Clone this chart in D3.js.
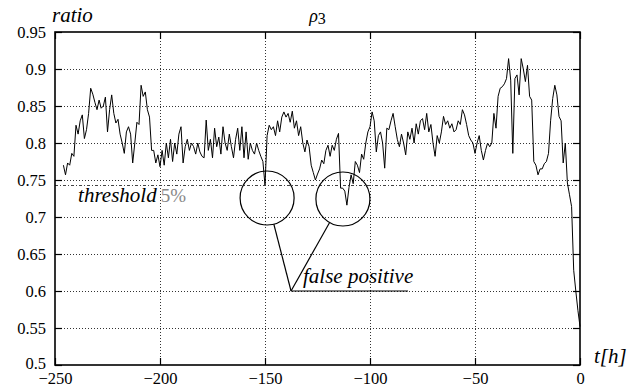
<!DOCTYPE html>
<html>
<head>
<meta charset="utf-8">
<script src="https://cdn.jsdelivr.net/npm/d3@7"></script>
<style>
  html, body { margin: 0; padding: 0; background: #fff; }
  svg { display: block; }
</style>
</head>
<body>
<svg id="chart" width="635" height="391"></svg>
<script>
// Hourly ratio samples, hours before the event
const hours = d3.range(-246, 1);
const ratio = [
  0.770, 0.757, 0.773, 0.770, 0.786, 0.782, 0.824, 0.812, 0.830, 0.838,
  0.806, 0.818, 0.840, 0.874, 0.866, 0.855, 0.845, 0.858, 0.847, 0.850,
  0.862, 0.815, 0.845, 0.865, 0.840, 0.827, 0.832, 0.812, 0.800, 0.786,
  0.815, 0.822, 0.812, 0.773, 0.800, 0.828, 0.825, 0.878, 0.863, 0.869,
  0.845, 0.835, 0.790, 0.790, 0.773, 0.784, 0.768, 0.790, 0.770, 0.800,
  0.780, 0.805, 0.775, 0.800, 0.785, 0.812, 0.822, 0.773, 0.795, 0.805,
  0.790, 0.800, 0.795, 0.785, 0.800, 0.788, 0.782, 0.780, 0.831, 0.790,
  0.805, 0.780, 0.820, 0.795, 0.808, 0.785, 0.822, 0.800, 0.790, 0.812,
  0.795, 0.780, 0.805, 0.820, 0.790, 0.822, 0.780, 0.815, 0.778, 0.800,
  0.790, 0.785, 0.800, 0.790, 0.782, 0.775, 0.743, 0.810, 0.824, 0.818,
  0.822, 0.810, 0.830, 0.815, 0.835, 0.842, 0.835, 0.840, 0.828, 0.843,
  0.820, 0.830, 0.810, 0.822, 0.800, 0.788, 0.804, 0.795, 0.770, 0.760,
  0.750, 0.758, 0.765, 0.777, 0.772, 0.790, 0.797, 0.782, 0.797, 0.790,
  0.805, 0.813, 0.739, 0.739, 0.735, 0.716, 0.740, 0.757, 0.745, 0.775,
  0.770, 0.760, 0.785, 0.778, 0.800, 0.815, 0.822, 0.842, 0.830, 0.788,
  0.810, 0.815, 0.800, 0.766, 0.820, 0.818, 0.830, 0.840, 0.822, 0.805,
  0.795, 0.812, 0.800, 0.784, 0.815, 0.805, 0.820, 0.800, 0.826, 0.812,
  0.830, 0.833, 0.818, 0.840, 0.815, 0.825, 0.800, 0.782, 0.810, 0.800,
  0.815, 0.836, 0.825, 0.830, 0.820, 0.826, 0.815, 0.818, 0.830, 0.825,
  0.845, 0.838, 0.825, 0.810, 0.804, 0.800, 0.786, 0.800, 0.810, 0.790,
  0.777, 0.790, 0.800, 0.795, 0.800, 0.840, 0.820, 0.863, 0.874, 0.876,
  0.880, 0.887, 0.914, 0.885, 0.786, 0.887, 0.892, 0.865, 0.914, 0.900,
  0.883, 0.905, 0.863, 0.858, 0.775, 0.770, 0.757, 0.765, 0.765, 0.772,
  0.775, 0.786, 0.830, 0.860, 0.878, 0.865, 0.836, 0.830, 0.773, 0.800,
  0.746, 0.730, 0.714, 0.628, 0.600, 0.574, 0.552
];
const xTicks = [-250, -200, -150, -100, -50, 0];
const yTicks = [0.5, 0.55, 0.6, 0.65, 0.7, 0.75, 0.8, 0.85, 0.9, 0.95];
const thresholdLevel = 0.7432;
// Annotated dips (centre in data units)
const flagged = [
  { t: -149.0, v: 0.7257 },
  { t: -112.9, v: 0.7243 }
];
const calloutVertex = { t: -137.6, v: 0.600 };
const calloutEnd = -81.9;

const SERIF = "'Liberation Serif', 'Times New Roman', Tinos, serif";
const svg = d3.select("#chart");
const m = { left: 55, right: 580, top: 32, bottom: 365 };
const x = d3.scaleLinear().domain([-250, 0]).range([m.left, m.right]);
const y = d3.scaleLinear().domain([0.5, 0.95]).range([m.bottom, m.top]);
const fmtX = d => d < 0 ? "\u2212" + Math.abs(d) : String(d);
const fmtY = d => String(+d.toFixed(2));

// dotted grid
const grid = svg.append("g").attr("stroke", "#333").attr("stroke-width", 1)
  .attr("stroke-dasharray", "1,2");
grid.selectAll("line.h").data(yTicks.slice(1, -1)).join("line")
  .attr("x1", m.left).attr("x2", m.right)
  .attr("y1", d => Math.round(y(d)) + 0.5).attr("y2", d => Math.round(y(d)) + 0.5);
grid.selectAll("line.v").data(xTicks.slice(1, -1)).join("line")
  .attr("y1", m.top).attr("y2", m.bottom)
  .attr("x1", d => Math.round(x(d)) + 0.5).attr("x2", d => Math.round(x(d)) + 0.5);

// threshold (dash-dot)
svg.append("line")
  .attr("x1", m.left).attr("x2", x(-1.5))
  .attr("y1", Math.round(y(thresholdLevel)) + 0.5).attr("y2", Math.round(y(thresholdLevel)) + 0.5)
  .attr("stroke", "#444").attr("stroke-width", 1)
  .attr("stroke-dasharray", "3,2,1,2");

// series
const line = d3.line().x((d, i) => x(hours[i])).y(d => y(d));
svg.append("path").datum(ratio)
  .attr("d", line).attr("fill", "none")
  .attr("stroke", "#000").attr("stroke-width", 1).attr("stroke-linejoin", "round");

// axes with inward ticks on all four sides
const tickLen = 7;
const axL = d3.axisLeft(y).tickValues(yTicks).tickSize(-tickLen).tickPadding(9)
  .tickFormat(fmtY);
const axR = d3.axisRight(y).tickValues(yTicks).tickSize(-tickLen).tickFormat("");
const axB = d3.axisBottom(x).tickValues(xTicks).tickSize(-tickLen).tickPadding(7)
  .tickFormat(fmtX);
const axT = d3.axisTop(x).tickValues(xTicks).tickSize(-tickLen).tickFormat("");

function style(g) {
  g.select(".domain").remove();
  g.selectAll(".tick line").attr("stroke", "#000").attr("stroke-width", 1.2);
  g.selectAll("text").style("font-size", "16.5px")
    .style("font-family", SERIF).attr("fill", "#000");
}
const gL = svg.append("g").attr("transform", `translate(${m.left},0)`).call(axL).call(style);
// lift the bottom value label a little clear of the first time label
gL.selectAll(".tick text").filter(d => d === 0.5).attr("dy", "0.2em");
svg.append("g").attr("transform", `translate(${m.right},0)`).call(axR).call(style);
svg.append("g").attr("transform", `translate(0,${m.bottom})`).call(axB).call(style);
svg.append("g").attr("transform", `translate(0,${m.top})`).call(axT).call(style);

// frame
svg.append("rect")
  .attr("x", m.left).attr("y", m.top)
  .attr("width", m.right - m.left).attr("height", m.bottom - m.top)
  .attr("fill", "none").attr("stroke", "#000").attr("stroke-width", 1.6);

function label(xp, yp, size, italic) {
  return svg.append("text").attr("x", xp).attr("y", yp)
    .style("font-family", SERIF).style("font-size", size + "px")
    .style("font-style", italic ? "italic" : "normal").attr("fill", "#000");
}

// callouts
const R = 27;
const vx = x(calloutVertex.t), vy = y(calloutVertex.v);
flagged.forEach(f => {
  const cx = x(f.t), cy = y(f.v);
  svg.append("circle").attr("cx", cx).attr("cy", cy).attr("r", R)
    .attr("fill", "none").attr("stroke", "#000").attr("stroke-width", 1.2);
  const dx = vx - cx, dy = vy - cy, L = Math.hypot(dx, dy);
  svg.append("line")
    .attr("x1", cx + dx / L * R).attr("y1", cy + dy / L * R)
    .attr("x2", vx).attr("y2", vy)
    .attr("stroke", "#000").attr("stroke-width", 1.2);
});
svg.append("line").attr("x1", vx).attr("x2", x(calloutEnd))
  .attr("y1", vy).attr("y2", vy).attr("stroke", "#000").attr("stroke-width", 1.2);
label(vx + 12, vy - 8, 21, true).text("false positive");

// threshold label
const th = label(x(-239), 202, 21, true);
th.append("tspan").text("threshold");
th.append("tspan").attr("dx", 4).attr("fill", "#888").style("font-style", "normal")
  .style("font-size", "19px").text("5%");

// axis titles
label(52, 22, 21, true).text("ratio");
label(594, 363, 21, true).text("t[h]");

// title
const title = label((m.left + m.right) / 2, 22, 18, false).attr("text-anchor", "middle");
title.append("tspan").style("font-style", "italic").text("\u03C1");
title.append("tspan").style("font-size", "16px").attr("dy", 2).text("3");
</script>
</body>
</html>
